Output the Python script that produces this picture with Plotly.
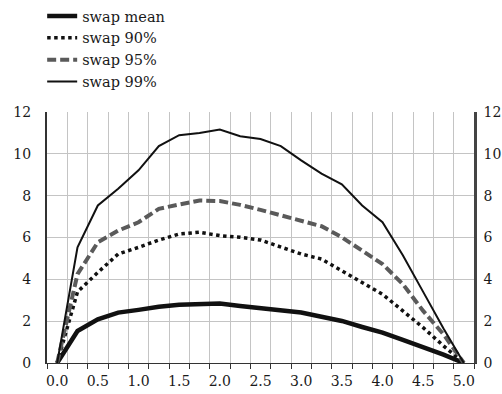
import plotly.graph_objects as go

x_vals = [0.0, 0.25, 0.5, 0.75, 1.0, 1.25, 1.5, 1.75, 2.0, 2.25, 2.5,
          2.75, 3.0, 3.25, 3.5, 3.75, 4.0, 4.25, 4.5, 4.75, 5.0]
swap_mean = [0, 1.53, 2.09, 2.41, 2.54, 2.69, 2.78, 2.81, 2.84, 2.73, 2.62,
             2.53, 2.41, 2.21, 2.01, 1.72, 1.45, 1.10, 0.76, 0.40, 0]
swap_90 = [0, 3.40, 4.33, 5.21, 5.53, 5.88, 6.17, 6.25, 6.09, 6.01, 5.88,
           5.53, 5.21, 4.97, 4.41, 3.85, 3.29, 2.49, 1.69, 0.82, 0]
swap_95 = [0, 4.25, 5.77, 6.33, 6.73, 7.37, 7.58, 7.77, 7.74, 7.56, 7.32,
           7.05, 6.81, 6.54, 6.01, 5.37, 4.73, 3.77, 2.49, 1.37, 0]
swap_99 = [0, 5.53, 7.53, 8.33, 9.21, 10.37, 10.89, 11.00, 11.16, 10.84, 10.71,
           10.37, 9.69, 9.05, 8.54, 7.53, 6.73, 5.15, 3.40, 1.65, 0]

x_tick_vals = [0.0, 0.5, 1.0, 1.5, 2.0, 2.5, 3.0, 3.5, 4.0, 4.5, 5.0]
x_tick_text = ["0.0", "0.5", "1.0", "1.5", "2.0", "2.5", "3.0", "3.5", "4.0", "4.5", "5.0"]
y_tick_vals = [0, 2, 4, 6, 8, 10, 12]

FONT = "DejaVu Serif"

fig = go.Figure()
fig.add_trace(go.Scatter(x=x_vals, y=swap_mean, mode="lines", name="swap mean",
                         line=dict(color="#111111", width=4.5)))
fig.add_trace(go.Scatter(x=x_vals, y=swap_90, mode="lines", name="swap 90%",
                         line=dict(color="#111111", width=3.5, dash="3.5px,3.5px")))
fig.add_trace(go.Scatter(x=x_vals, y=swap_95, mode="lines", name="swap 95%",
                         line=dict(color="#5a5a5a", width=4, dash="9px,4px")))
fig.add_trace(go.Scatter(x=x_vals, y=swap_99, mode="lines", name="swap 99%",
                         yaxis="y2", line=dict(color="#111111", width=2)))

fig.update_layout(
    width=502, height=394,
    margin=dict(l=47, r=28, t=112, b=31, autoexpand=False),
    paper_bgcolor="white", plot_bgcolor="white",
    font=dict(family=FONT, size=14, color="#1a1a1a"),
    showlegend=True,
    legend=dict(xref="container", yref="container", x=0.084, y=1.02,
                xanchor="left", yanchor="top", bgcolor="rgba(0,0,0,0)",
                font=dict(family=FONT, size=14.5), tracegroupgap=0,
                itemwidth=30),
    xaxis=dict(range=[-0.125, 5.125], tickmode="array", tickvals=x_tick_vals,
               ticktext=x_tick_text, ticks="", showgrid=False, zeroline=False,
               showline=True, linecolor="#333333", linewidth=1,
               tickfont=dict(family=FONT, size=14), ticklabelstandoff=5,
               minor=dict(tickmode="linear", tick0=0.125, dtick=0.25,
                          ticks="outside", ticklen=5, tickwidth=1, tickcolor="#333333",
                          showgrid=True, gridcolor="#c4c4c4", gridwidth=1)),
    yaxis=dict(range=[0, 12], tickmode="array", tickvals=y_tick_vals, ticks="",
               showgrid=True, gridcolor="#c4c4c4", gridwidth=1, zeroline=False,
               showline=True, linecolor="#333333", linewidth=2,
               ticklabelstandoff=11, tickfont=dict(family=FONT, size=14)),
    yaxis2=dict(range=[0, 12], tickmode="array", tickvals=y_tick_vals, ticks="",
                overlaying="y", side="right", showgrid=False, zeroline=False,
                showline=True, linecolor="#444444", linewidth=2.5,
                ticklabelstandoff=4, tickfont=dict(family=FONT, size=14)),
)

fig.write_html("out.html")
